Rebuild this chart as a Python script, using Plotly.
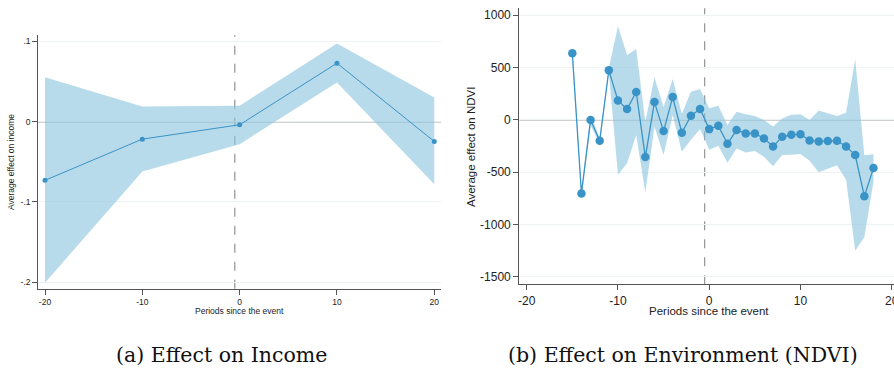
import plotly.graph_objects as go

# ---------------- data ----------------
income_periods = [-20, -10, 0, 10, 20]
income_effect = [-0.073, -0.0217, -0.0038, 0.0729, -0.0246]
income_upper = [0.0554, 0.019, 0.020, 0.0975, 0.030]
income_lower = [-0.2005, -0.062, -0.028, 0.0488, -0.078]

ndvi_periods = list(range(-15, 19))
ndvi_effect = [634, -703, -3, -200, 472, 185, 102, 265, -356, 169, -108, 217,
               -124, 38, 102, -89, -57, -229, -98, -130, -130, -178, -254,
               -162, -143, -137, -197, -206, -203, -200, -254, -337, -729, -461]
ndvi_halfwidth = [60, 30, 50, 30, 20, 710, 516, 410, 340, 236, 229, 172,
                  181, 229, 191, 198, 190, 180, 175, 183, 167, 175, 190,
                  175, 190, 190, 195, 295, 265, 235, 320, 914, 390, 131]
ndvi_upper = [e + h for e, h in zip(ndvi_effect, ndvi_halfwidth)]
ndvi_lower = [e - h for e, h in zip(ndvi_effect, ndvi_halfwidth)]

income_xticks = [-20, -10, 0, 10, 20]
income_xticklabels = ["-20", "-10", "0", "10", "20"]
income_yticks = [0.1, 0, -0.1, -0.2]
income_yticklabels = [".1", "0", "-.1", "-.2"]
ndvi_xticks = [-20, -10, 0, 10, 20]
ndvi_xticklabels = ["-20", "-10", "0", "10", "20"]
ndvi_yticks = [1000, 500, 0, -500, -1000, -1500]
ndvi_yticklabels = ["1000", "500", "0", "-500", "-1000", "-1500"]

captions = ["(a) Effect on Income", "(b) Effect on Environment (NDVI)"]

# ---------------- style ----------------
W, H = 894, 370
BAND = "rgba(137,195,222,0.6)"
LINE = "#3a93c6"
AXIS = "#555555"
GRID = "#edf2f5"
ZERO = "#a3a3a3"
SANS = "Liberation Sans, Arial, sans-serif"
SERIF = "DejaVu Serif, serif"


def px_x(p):
    return p / W


def px_y(p):
    return 1 - p / H


fig = go.Figure()

# Left panel: income
fig.add_trace(go.Scatter(x=income_periods, y=income_upper, mode="lines",
                         line=dict(width=0), hoverinfo="skip", showlegend=False,
                         xaxis="x", yaxis="y"))
fig.add_trace(go.Scatter(x=income_periods, y=income_lower, mode="lines",
                         line=dict(width=0), fill="tonexty", fillcolor=BAND,
                         hoverinfo="skip", showlegend=False, xaxis="x", yaxis="y"))
fig.add_trace(go.Scatter(x=income_periods, y=income_effect, mode="lines+markers",
                         line=dict(color=LINE, width=1),
                         marker=dict(color=LINE, size=5),
                         showlegend=False, xaxis="x", yaxis="y"))

# Right panel: NDVI
fig.add_trace(go.Scatter(x=ndvi_periods, y=ndvi_upper, mode="lines",
                         line=dict(width=0), hoverinfo="skip", showlegend=False,
                         xaxis="x2", yaxis="y2"))
fig.add_trace(go.Scatter(x=ndvi_periods, y=ndvi_lower, mode="lines",
                         line=dict(width=0), fill="tonexty", fillcolor=BAND,
                         hoverinfo="skip", showlegend=False, xaxis="x2", yaxis="y2"))
fig.add_trace(go.Scatter(x=ndvi_periods, y=ndvi_effect, mode="lines+markers",
                         line=dict(color=LINE, width=1.3),
                         marker=dict(color=LINE, size=8.5),
                         showlegend=False, xaxis="x2", yaxis="y2"))

axis_common = dict(showline=True, linecolor=AXIS, linewidth=1.2,
                   ticks="outside", tickcolor=AXIS, ticklen=5, tickwidth=1,
                   zeroline=False, mirror=False, ticklabeloverflow="allow",
                   automargin=False)

fig.update_layout(
    width=W, height=H,
    margin=dict(l=0, r=0, t=0, b=0, autoexpand=False),
    paper_bgcolor="white", plot_bgcolor="white",
    showlegend=False,
    xaxis=dict(domain=[px_x(38.3), px_x(441)], range=[-20.69, 20.69],
               tickmode="array", tickvals=income_xticks, ticktext=income_xticklabels,
               showgrid=False, anchor="y",
               tickfont=dict(family=SANS, size=8.5, color="#222"), **axis_common),
    yaxis=dict(domain=[px_y(288.7), px_y(35)], range=[-0.208, 0.108],
               tickmode="array", tickvals=income_yticks, ticktext=income_yticklabels,
               showgrid=True, gridcolor=GRID, gridwidth=1, anchor="x",
               tickfont=dict(family=SANS, size=8.5, color="#222"), **axis_common),
    xaxis2=dict(domain=[px_x(519.3), 1.0], range=[-20.81, 20.25],
                tickmode="array", tickvals=ndvi_xticks, ticktext=ndvi_xticklabels,
                showgrid=False, anchor="y2",
                tickfont=dict(family=SANS, size=12, color="#222"), **axis_common),
    yaxis2=dict(domain=[px_y(284.3), px_y(8.3)], range=[-1570, 1064],
                tickmode="array", tickvals=ndvi_yticks, ticktext=ndvi_yticklabels,
                showgrid=True, gridcolor=GRID, gridwidth=1, anchor="x2",
                tickfont=dict(family=SANS, size=12, color="#222"), **axis_common),
)

# reference lines
for xa, ya in (("x", "y"), ("x2", "y2")):
    fig.add_shape(type="line", xref=f"{xa} domain", yref=ya, x0=0, x1=1, y0=0, y1=0,
                  line=dict(color=ZERO, width=1.6), layer="below")
    fig.add_shape(type="line", xref=xa, yref=f"{ya} domain", x0=-0.5, x1=-0.5, y0=0, y1=1,
                  line=dict(color="#9a9a9a", width=1.3, dash="dash"), layer="below")


def label(text, x, y, size, family=SANS, angle=0, color="#222"):
    fig.add_annotation(text=text, xref="paper", yref="paper",
                       x=px_x(x), y=px_y(y), xanchor="center", yanchor="middle",
                       textangle=angle, showarrow=False,
                       font=dict(family=family, size=size, color=color))


# axis titles
label("Periods since the event", 239.5, 311, 8.5)
label("Average effect on income", 11, 162, 8.5, angle=-90)
label("Periods since the event", 709, 310.5, 11.5)
label("Average effect on NDVI", 471, 147, 11.5, angle=-90)

# captions
label(captions[0], 221.7, 355, 20.5, family=SERIF, color="#111")
label(captions[1], 682.5, 355, 20.5, family=SERIF, color="#111")

fig.write_html("out.html")
